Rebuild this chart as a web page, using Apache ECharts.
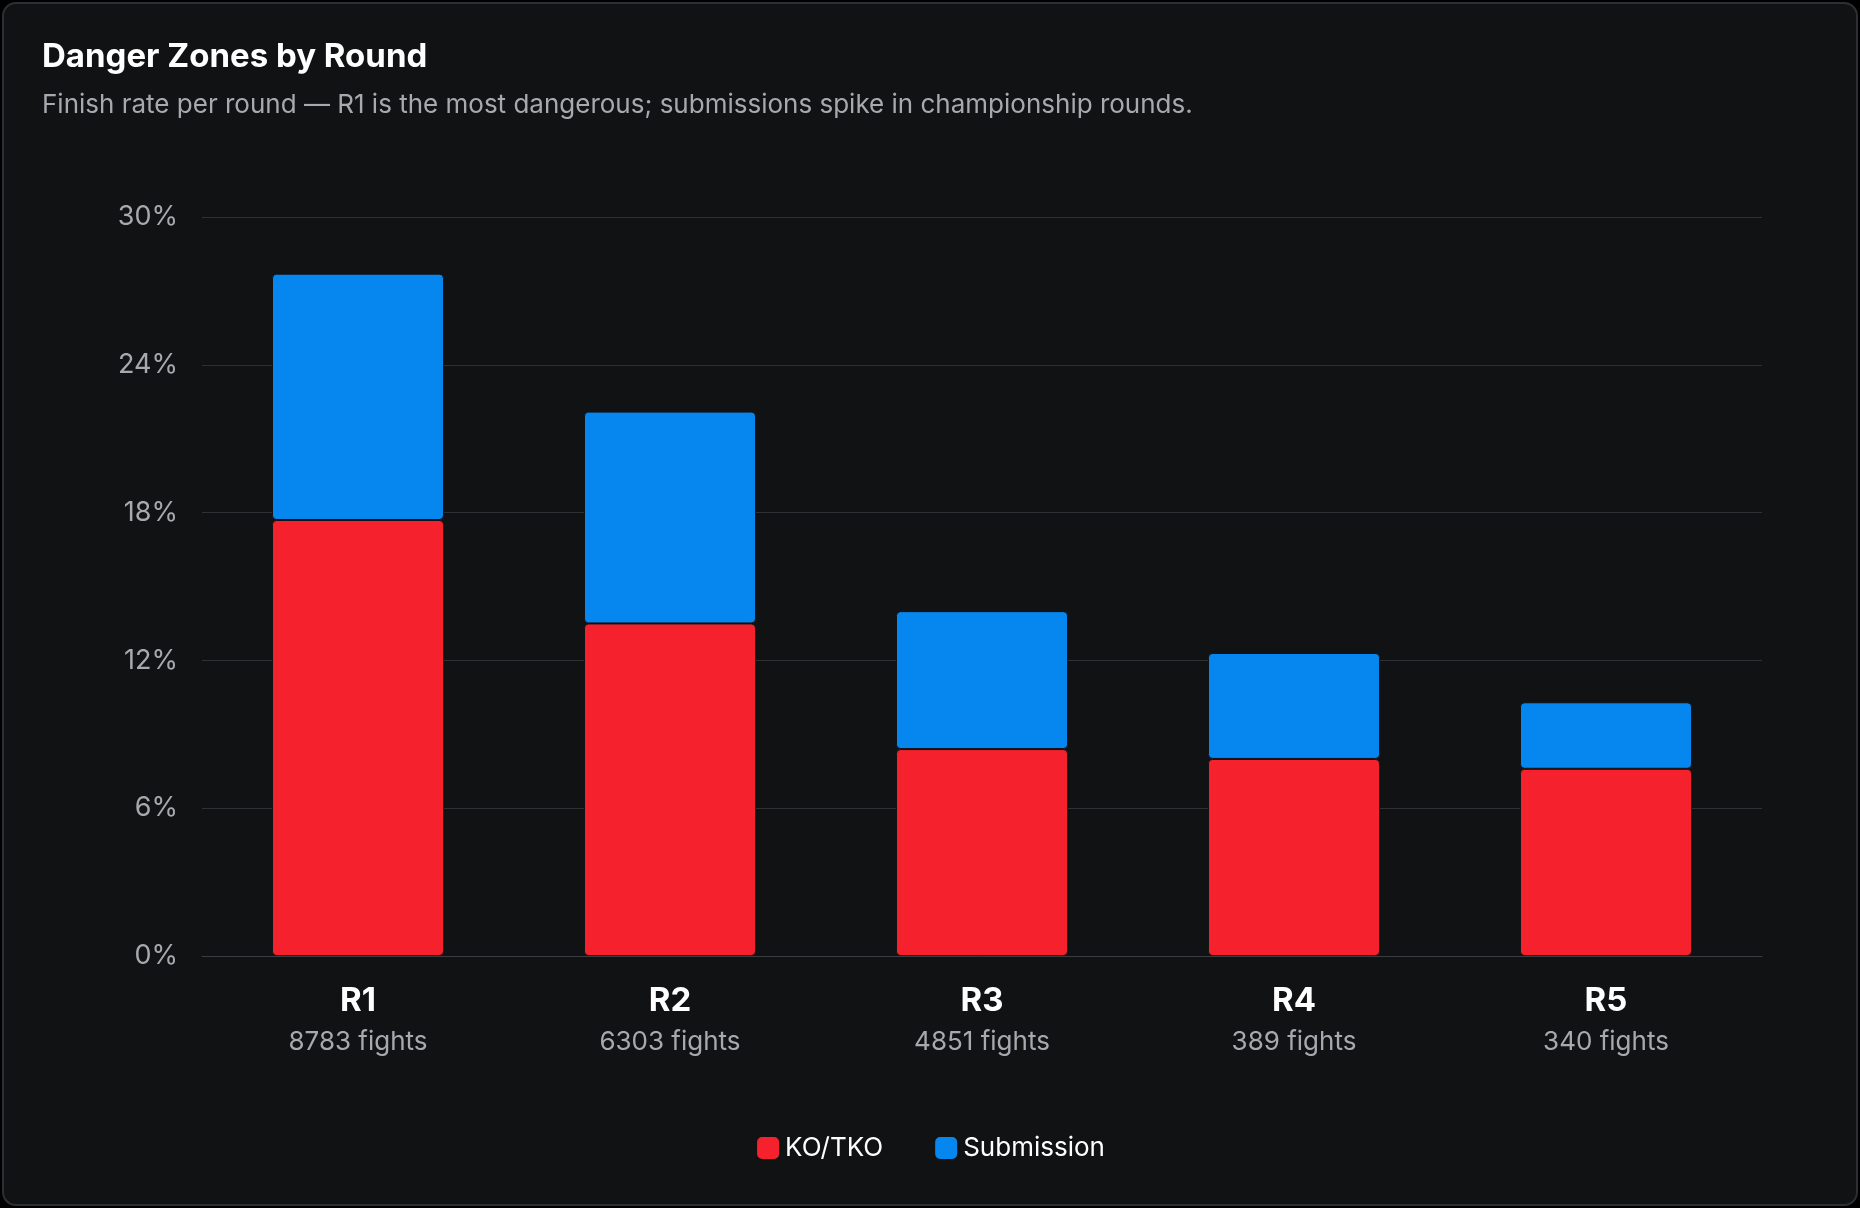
<!DOCTYPE html>
<html>
<head>
<meta charset="utf-8">
<script src="https://cdn.jsdelivr.net/npm/echarts@6/dist/echarts.min.js"></script>
<style>
html, body { margin: 0; padding: 0; background: #000; }
#main { position: absolute; left: 2px; top: 2px; width: 1852px; height: 1200px;
  background: #111213; border: 2px solid #2c2f33; border-radius: 14px; }
</style>
</head>
<body>
<div id="main"></div>
<script>
var rounds = ['R1', 'R2', 'R3', 'R4', 'R5'];
var fights = [8783, 6303, 4851, 389, 340];
var koTko = [17.7, 13.5, 8.4, 8.0, 7.6];
var submission = [10.0, 8.6, 5.6, 4.3, 2.7];

var myChart = echarts.init(document.getElementById('main'));
var font = 'Inter, "Noto Sans", sans-serif';

var option = {
    backgroundColor: 'transparent',
    textStyle: { fontFamily: font },
    title: {
        text: 'Danger Zones by Round',
        subtext: 'Finish rate per round — R1 is the most dangerous; submissions spike in championship rounds.',
        left: 33, top: 32,
        itemGap: 18,
        textStyle: { color: '#ffffff', fontSize: 33, fontWeight: 'bold', fontFamily: font },
        subtextStyle: { color: '#a6a9ae', fontSize: 26, fontFamily: font }
    },
    legend: {
        bottom: 38, left: 'center',
        itemWidth: 24, itemHeight: 24, itemGap: 50,
        icon: 'roundRect',
        textStyle: { color: '#ffffff', fontSize: 26, fontFamily: font },
        data: ['KO/TKO', 'Submission']
    },
    grid: { left: 198, right: 94, top: 213, bottom: 248 },
    xAxis: {
        type: 'category',
        data: rounds,
        axisLine: { lineStyle: { color: '#3a3d42' } },
        axisTick: { show: false },
        axisLabel: {
            margin: 22,
            formatter: function (v, i) { return '{r|' + v + '}\n{f|' + fights[i] + ' fights}'; },
            rich: {
                r: { color: '#ffffff', fontSize: 33, fontWeight: 'bold', lineHeight: 46, fontFamily: font },
                f: { color: '#a6a9ae', fontSize: 26, lineHeight: 36, fontFamily: font }
            }
        }
    },
    yAxis: {
        type: 'value',
        min: 0, max: 30, interval: 6,
        axisLabel: { formatter: '{value}%', color: '#a6a9ae', fontSize: 27, margin: 24 },
        splitLine: { lineStyle: { color: '#2d3035' } }
    },
    series: [
        {
            name: 'KO/TKO', type: 'bar', stack: 'f', data: koTko,
            barWidth: 172,
            itemStyle: { color: '#f5222d', borderRadius: 4, borderColor: '#111213', borderWidth: 1 }
        },
        {
            name: 'Submission', type: 'bar', stack: 'f', data: submission,
            itemStyle: { color: '#0687f0', borderRadius: 4, borderColor: '#111213', borderWidth: 1 }
        }
    ]
};

myChart.setOption(option);
</script>
</body>
</html>
